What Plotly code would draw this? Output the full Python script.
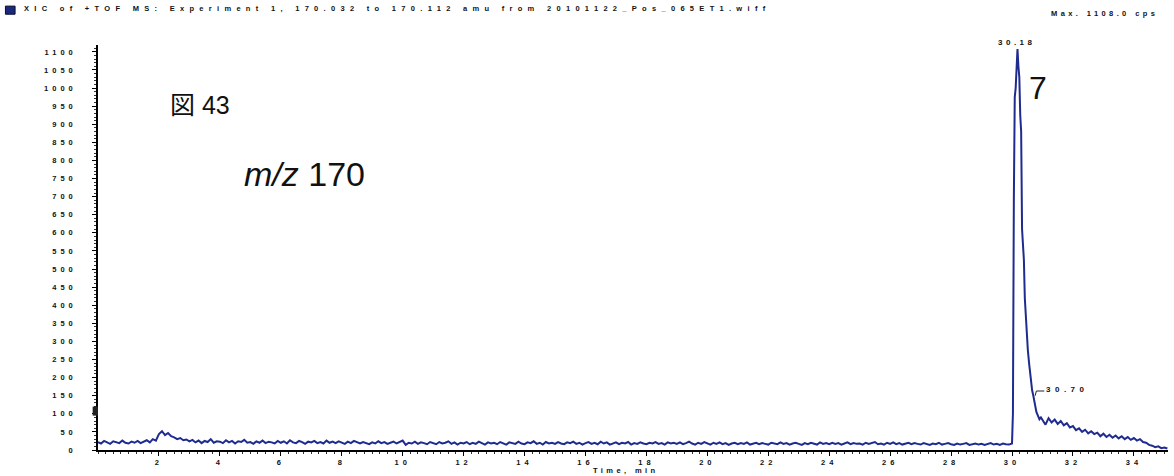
import numpy as np
import plotly.graph_objects as go

# ---------------- data ----------------
# baseline trace, one value every 0.1 min from 0.0 to 29.9 min
base_start = 0.0
base_step = 0.1
base_cps = [
    22, 18, 25, 20, 17, 24, 21, 19, 26, 20,
    18, 23, 20, 25, 19, 22, 27, 21, 30, 26,
    44, 52, 41, 47, 38, 35, 30, 33, 27, 29,
    24, 28, 21, 26, 19, 25, 22, 30, 20, 24,
    23, 19, 27, 21, 25, 18, 24, 22, 28, 20,
    22, 17, 24, 20, 26, 19, 23, 21, 18, 25,
    20, 24, 18, 27, 21, 19, 25, 22, 17, 23,
    21, 25, 19, 22, 18, 26, 20, 23, 19, 24,
    20, 17, 23, 19, 25, 21, 18, 22, 20, 16,
    21, 18, 24, 19, 22, 17, 20, 23, 18, 21,
    26, 14, 20, 18, 23, 17, 21, 19, 16, 22,
    19, 16, 22, 18, 20, 24, 17, 21, 15, 20,
    18, 22, 16, 20, 17, 23, 19, 15, 21, 18,
    20, 16, 22, 18, 15, 21, 19, 17, 23, 18,
    16, 21, 19, 24, 17, 20, 15, 22, 18, 20,
    17, 22, 18, 16, 21, 19, 23, 17, 20, 15,
    19, 22, 17, 20, 16, 23, 18, 21, 15, 19,
    21, 16, 20, 18, 22, 15, 19, 17, 21, 18,
    16, 20, 18, 22, 17, 19, 15, 21, 18, 20,
    17, 21, 16, 19, 23, 18, 15, 20, 17, 22,
    18, 15, 20, 17, 21, 16, 19, 14, 18, 20,
    16, 19, 17, 21, 15, 18, 20, 16, 19, 17,
    15, 20, 18, 16, 21, 17, 19, 15, 18, 20,
    17, 14, 19, 16, 20, 18, 15, 21, 17, 19,
    16, 20, 17, 19, 15, 18, 21, 16, 19, 17,
    18, 15, 20, 17, 19, 22, 16, 18, 15, 20,
    17, 21, 16, 19, 15, 18, 20, 16, 19, 17,
    15, 19, 17, 14, 18, 16, 20, 15, 17, 19,
    16, 14, 18, 15, 17, 19, 14, 16, 18, 15,
    17, 14, 16, 19, 15, 17, 14, 18, 16, 15,
]

# peak region
peak_time = [30.00, 30.03, 30.06, 30.09, 30.12, 30.15, 30.18, 30.21, 30.24,
             30.27, 30.30, 30.33, 30.36, 30.39, 30.42, 30.46, 30.49, 30.52,
             30.56, 30.59, 30.63, 30.66, 30.70, 30.75, 30.80, 30.85, 30.90, 30.95]
peak_cps = [18, 100, 690, 975, 1000, 1040, 1108, 1060, 1030,
            925, 880, 610, 560, 525, 420, 360, 300, 276,
            240, 213, 185, 165, 150, 122, 105, 95, 85, 90]

# tailing after the peak
tail_time = [31.0, 31.1, 31.2, 31.3, 31.4, 31.5, 31.6, 31.7, 31.8, 31.9,
             32.0, 32.1, 32.2, 32.3, 32.4, 32.5, 32.6, 32.7, 32.8, 32.9,
             33.0, 33.1, 33.2, 33.3, 33.4, 33.5, 33.6, 33.7, 33.8, 33.9,
             34.0, 34.1, 34.2, 34.3, 34.4, 34.5, 34.6, 34.7, 34.8, 34.9,
             35.0, 35.1]
tail_cps = [82, 70, 88, 76, 84, 72, 80, 68, 74, 62,
            66, 55, 60, 50, 56, 46, 52, 44, 48, 38,
            45, 36, 42, 34, 40, 32, 38, 30, 36, 28,
            33, 26, 30, 22, 20, 14, 12, 8, 10, 5,
            7, 4]

# tick labels
x_ticks = [2, 4, 6, 8, 10, 12, 14, 16, 18, 20, 22, 24, 26, 28, 30, 32, 34]
y_ticks = list(range(0, 1101, 50))

title_text = "XIC of +TOF MS: Experiment 1, 170.032 to 170.112 amu from 20101122_Pos_065ET1.wiff"
max_text = "Max. 1108.0 cps"
x_title = "Time, min"
peak_labels = [(30.18, "30.18"), (30.70, "30.70")]

# ---------------- build trace ----------------
base_time = [round(base_start + i * base_step, 2) for i in range(len(base_cps))]
time = base_time + peak_time + tail_time
cps = base_cps + peak_cps + tail_cps

LINE = "#1f2b8f"


def spaced(s, ls=3):
    return f'<span style="letter-spacing:{ls}px">{s}</span>'


fig = go.Figure()
fig.add_trace(go.Scatter(x=time, y=cps, mode="lines",
                         line=dict(color=LINE, width=2), showlegend=False,
                         hoverinfo="skip"))

tick_font = dict(family="Liberation Sans, Arial, sans-serif", size=7.5, color="#111")

fig.update_layout(
    width=1174, height=476,
    margin=dict(l=98, r=6, t=45, b=26),
    paper_bgcolor="white", plot_bgcolor="white",
    xaxis=dict(range=[0, 35.12], showgrid=False, zeroline=False,
               showline=True, linecolor="black", linewidth=1.5,
               tickmode="array", tickvals=x_ticks,
               ticktext=[spaced(f"<b>{v}</b>", 4) for v in x_ticks],
               ticks="outside", ticklen=4, tickcolor="black",
               tickfont=tick_font,
               minor=dict(dtick=0.25, ticklen=2, ticks="outside", tickcolor="#333")),
    yaxis=dict(range=[0, 1119], showgrid=False, zeroline=False,
               showline=True, linecolor="black", linewidth=1.5,
               tickmode="array", tickvals=y_ticks,
               ticktext=[spaced(f"<b>{v}</b>", 4) for v in y_ticks],
               ticks="outside", ticklen=4, tickcolor="black",
               tickfont=tick_font, ticklabelstandoff=14,
               minor=dict(dtick=10, ticklen=2, ticks="outside", tickcolor="#333")),
)

ann_font = dict(family="Liberation Sans, Arial, sans-serif", size=7.5, color="#111")

# title line
fig.add_annotation(xref="paper", yref="paper", x=-0.071, y=1.091,
                   xanchor="left", yanchor="middle", showarrow=False,
                   text=spaced(f"<b>{title_text}</b>", 5.3), font=ann_font)
fig.add_shape(type="rect", xref="paper", yref="paper",
              x0=-0.0865, x1=-0.0775, y0=1.076, y1=1.096,
              fillcolor="#1a2a7a", line=dict(color="#0a0a30", width=1))
fig.add_annotation(xref="paper", yref="paper", x=0.9925, y=1.079,
                   xanchor="right", yanchor="middle", showarrow=False,
                   text=spaced(f"<b>{max_text}</b>", 3.4), font=ann_font)
# x-axis title
fig.add_annotation(xref="paper", yref="paper", x=0.493, y=-0.05,
                   xanchor="center", yanchor="middle", showarrow=False,
                   text=spaced(f"<b>{x_title}</b>", 3.4), font=ann_font)

# peak labels
fig.add_annotation(xref="x", yref="paper", x=peak_labels[0][0], y=(450 - 42) / 405,
                   xanchor="center", yanchor="middle",
                   showarrow=False, text=spaced(f"<b>{peak_labels[0][1]}</b>", 3.5),
                   font=dict(family="Liberation Sans, Arial", size=8, color="#111"))
fig.add_annotation(x=31.05, y=168, xanchor="left", yanchor="middle",
                   showarrow=False, text=spaced(f"<b>{peak_labels[1][1]}</b>", 4.5),
                   font=dict(family="Liberation Sans, Arial", size=8, color="#111"))
fig.add_shape(type="path", path="M 30.76,150 L 30.80,163 L 31.06,163",
              line=dict(color="#222", width=1))

# large labels
fig.add_annotation(xref="paper", yref="paper", x=(168 - 98) / 1070, y=(450 - 103) / 405,
                   xanchor="left", yanchor="middle", showarrow=False,
                   text='<span style="font-family:Noto Sans CJK JP">図</span> 43',
                   font=dict(family="Liberation Sans, Arial", size=25, color="#111"))
fig.add_annotation(xref="paper", yref="paper", x=(242 - 98) / 1070, y=(450 - 174) / 405,
                   xanchor="left", yanchor="middle", showarrow=False,
                   text="<i>m/z</i> 170",
                   font=dict(family="Liberation Sans, Arial", size=34, color="#111"))
fig.add_annotation(xref="paper", yref="paper", x=(1027 - 98) / 1070, y=(450 - 88) / 405,
                   xanchor="left", yanchor="middle", showarrow=False,
                   text="7",
                   font=dict(family="Liberation Sans, Arial", size=32, color="#111"))

# small marker on the y axis
fig.add_shape(type="rect", xref="paper", yref="y",
              x0=-0.005, x1=0, y0=95, y1=120,
              fillcolor="#222", line=dict(width=0))

fig.write_html("out.html",
               config={"displayModeBar": False},
               post_script="document.body.style.margin='0';document.body.style.overflow='hidden';")
